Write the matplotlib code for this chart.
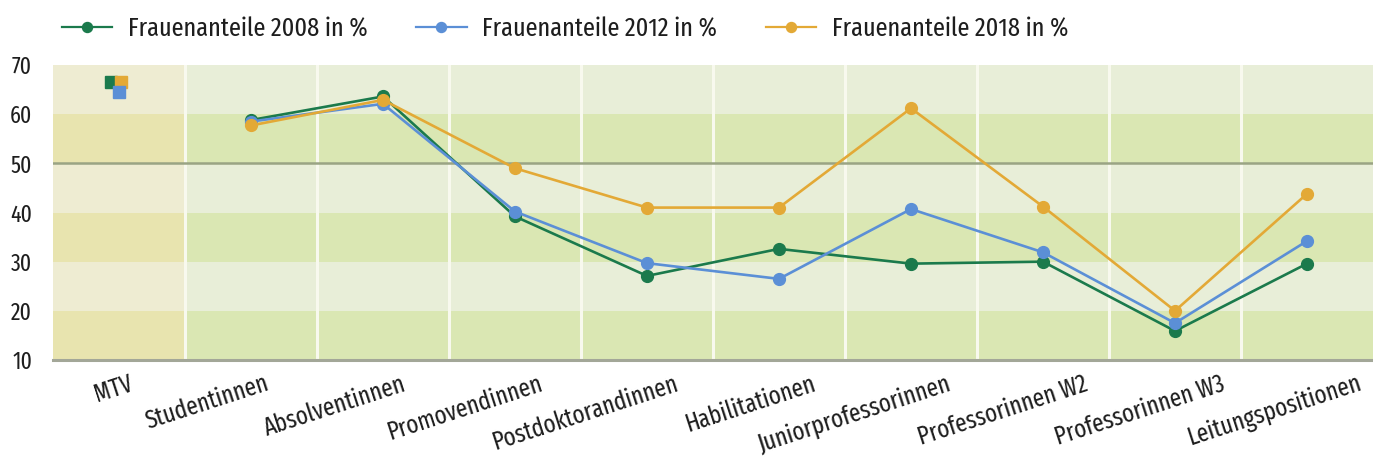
import matplotlib
matplotlib.use("Agg")
import matplotlib.pyplot as plt
from matplotlib.lines import Line2D
from matplotlib.transforms import ScaledTranslation

plt.rcParams['font.family'] = ['Fira Sans Extra Condensed', 'Fira Sans Condensed', 'DejaVu Sans']

categories = ['MTV', 'Studentinnen', 'Absolventinnen', 'Promovendinnen',
              'Postdoktorandinnen', 'Habilitationen', 'Juniorprofessorinnen',
              'Professorinnen W2', 'Professorinnen W3', 'Leitungspositionen']
v2008 = [66.5, 58.8, 63.6, 39.2, 27.1, 32.6, 29.6, 30.0, 15.9, 29.6]
v2012 = [64.5, 58.5, 62.1, 40.2, 29.7, 26.5, 40.7, 31.9, 17.5, 34.2]
v2018 = [66.5, 57.7, 62.9, 49.0, 41.0, 41.0, 61.2, 41.2, 20.0, 43.8]
series_labels = ['Frauenanteile 2008 in %', 'Frauenanteile 2012 in %',
                 'Frauenanteile 2018 in %']
yticks = [10, 20, 30, 40, 50, 60, 70]

c_green = '#1b7a4c'
c_blue = '#5b8fd6'
c_orange = '#e3a936'
colors = [c_green, c_blue, c_orange]
text_color = '#1e1e1e'

W, H = 1373, 463
fig = plt.figure(figsize=(W / 100, H / 100), dpi=100)
ax = fig.add_axes([53 / W, 1 - 360 / H, 1 - 53 / W, (360 - 65) / H])

n = len(categories)
ax.set_xlim(-0.5, n - 0.5)
ax.set_ylim(10, 70)

# background bands
light = '#e8eed8'
dark = '#dae7b3'
mtv_light = '#eeecd2'
mtv_dark = '#e8e4af'
for k, lo in enumerate(range(10, 70, 10)):
    is_dark = (k % 2 == 0)
    ax.axhspan(lo, lo + 10, color=dark if is_dark else light, lw=0, zorder=0)
    ax.fill_between([-0.5, 0.5], lo, lo + 10,
                    color=mtv_dark if is_dark else mtv_light, lw=0, zorder=0.5)

for i in range(n - 1):
    ax.axvline(i + 0.5, color='#f8f9ee', lw=2.2, zorder=1)

ax.axhline(50, color='#9aa484', lw=1.8, zorder=1.5)

x = list(range(n))
# lines (excluding MTV)
for vals, col in zip([v2008, v2012, v2018], colors):
    ax.plot(x[1:], vals[1:], color=col, lw=1.9, marker='o', ms=8.5,
            markeredgecolor=col, zorder=3)

# MTV squares with small offsets
offs = {0: -8, 1: 0, 2: 2}
for idx in [0, 2, 1]:
    vals = [v2008, v2012, v2018][idx]
    tr = ax.transData + ScaledTranslation(offs[idx] / 100, 0, fig.dpi_scale_trans)
    ax.plot([x[0]], [vals[0]], marker='s', ms=8.6, color=colors[idx],
            lw=0, transform=tr, zorder=3)

# spines
for s in ['top', 'right', 'left']:
    ax.spines[s].set_visible(False)
ax.spines['bottom'].set_color('#a3a798')
ax.spines['bottom'].set_linewidth(2.2)
ax.spines['bottom'].set_zorder(4)

ax.set_yticks(yticks)
ax.set_yticklabels([str(t) for t in yticks])
ax.tick_params(axis='y', length=0, pad=15, labelsize=17, labelcolor=text_color)
ax.set_xticks(x)
ax.set_xticklabels(categories)
ax.tick_params(axis='x', length=0, pad=8, labelsize=18, labelcolor=text_color)
for i, lab in enumerate(ax.get_xticklabels()):
    lab.set_rotation(18)
    lab.set_rotation_mode('anchor')
    lab.set_ha('right')
    lab.set_va('top')
    dx = 9 + 4.5 * i
    lab.set_transform(lab.get_transform() + ScaledTranslation(dx / 100, 0, fig.dpi_scale_trans))

handles = [Line2D([0], [0], color=c, lw=1.6, marker='o', ms=7.2) for c in colors]
fig.legend(handles, series_labels, ncol=3, loc='center left',
           bbox_to_anchor=(62 / W, 1 - 29 / H), frameon=False, fontsize=19,
           handlelength=1.9, handletextpad=0.6, columnspacing=1.85,
           labelcolor=text_color, borderaxespad=0, borderpad=0)

fig.savefig('out.png', dpi=100)
